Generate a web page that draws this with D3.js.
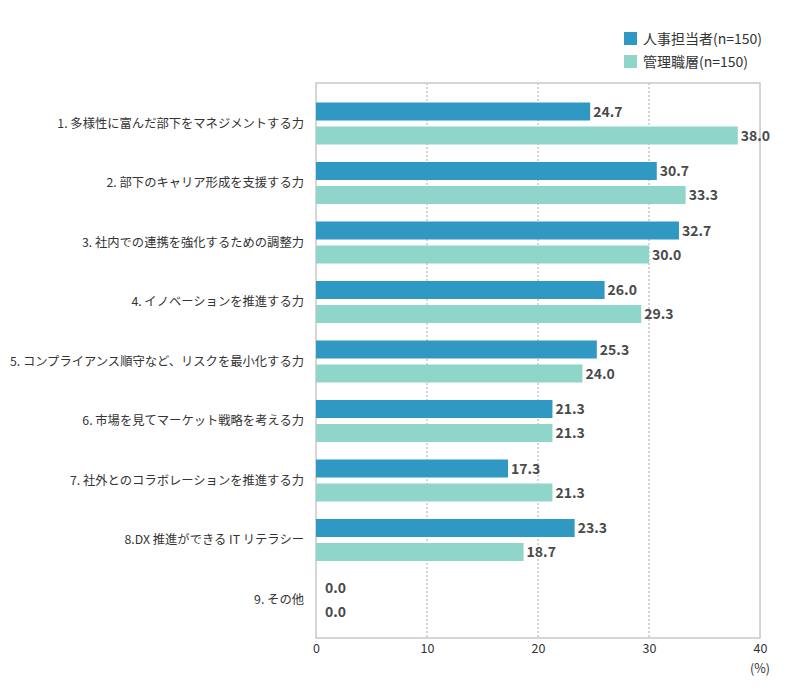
<!DOCTYPE html>
<html>
<head>
<meta charset="utf-8">
<script src="https://cdn.jsdelivr.net/npm/d3@7"></script>
<style>
  body { margin: 0; background: #fff; }
  svg text { font-family: "Noto Sans CJK JP", "Noto Sans", sans-serif; }
</style>
</head>
<body>
<div id="chart"></div>
<script>
// --- data ---
const categories = [
    '1. 多様性に富んだ部下をマネジメントする力',
    '2. 部下のキャリア形成を支援する力',
    '3. 社内での連携を強化するための調整力',
    '4. イノベーションを推進する力',
    '5. コンプライアンス順守など、リスクを最小化する力',
    '6. 市場を見てマーケット戦略を考える力',
    '7. 社外とのコラボレーションを推進する力',
    '8.DX 推進ができる IT リテラシー',
    '9. その他'
];
const seriesNames = ['人事担当者(n=150)', '管理職層(n=150)'];
const hrValues = [24.7, 30.7, 32.7, 26.0, 25.3, 21.3, 17.3, 23.3, 0.0];
const mgrValues = [38.0, 33.3, 30.0, 29.3, 24.0, 21.3, 21.3, 18.7, 0.0];
const xTicks = [0, 10, 20, 30, 40];
const colors = ['#2f99c3', '#8fd5ca'];

const width = 790, height = 688;
const plot = { left: 316, right: 760, top: 83, bottom: 638 };

const svg = d3.select('#chart').append('svg')
    .attr('width', width)
    .attr('height', height);

const x = d3.scaleLinear().domain([0, 40]).range([plot.left, plot.right]);
const y = d3.scaleBand().domain(categories).range([93.75, 629.25]).padding(0);

// grid lines (dotted)
svg.append('g').selectAll('line')
    .data(xTicks.filter(t => t > 0 && t < 40))
    .enter().append('line')
    .attr('x1', d => x(d)).attr('x2', d => x(d))
    .attr('y1', plot.top).attr('y2', plot.bottom)
    .attr('stroke', '#aaa')
    .attr('stroke-width', 1)
    .attr('stroke-dasharray', '2,2');

// plot frame
svg.append('rect')
    .attr('x', plot.left).attr('y', plot.top)
    .attr('width', plot.right - plot.left)
    .attr('height', plot.bottom - plot.top)
    .attr('fill', 'none')
    .attr('stroke', '#c8c8c8')
    .attr('stroke-width', 1.5);

const barH = 18;
const series = [hrValues, mgrValues];
series.forEach((vals, si) => {
    const offset = si === 0 ? -21 : 3;
    const g = svg.append('g');
    g.selectAll('rect')
        .data(vals)
        .enter().append('rect')
        .attr('x', x(0))
        .attr('y', (d, i) => y(categories[i]) + y.bandwidth() / 2 + offset)
        .attr('width', d => x(d) - x(0))
        .attr('height', barH)
        .attr('fill', colors[si]);
    g.selectAll('text')
        .data(vals)
        .enter().append('text')
        .attr('x', d => x(d) + (d === 0 ? 9 : 3))
        .attr('y', (d, i) => y(categories[i]) + y.bandwidth() / 2 + offset + barH / 2)
        .attr('dy', '0.36em')
        .attr('font-size', 14)
        .attr('font-weight', 600)
        .attr('fill', '#4a4a4a')
        .text(d => d.toFixed(1));
});

// left axis labels
svg.append('g').selectAll('text')
    .data(categories)
    .enter().append('text')
    .attr('x', 304)
    .attr('y', d => y(d) + y.bandwidth() / 2)
    .attr('dy', '0.36em')
    .attr('text-anchor', 'end')
    .attr('font-size', 12.3)
    .attr('fill', '#333')
    .text(d => d);

// bottom axis
const xAxis = svg.append('g')
    .attr('transform', `translate(0,${plot.bottom})`)
    .call(d3.axisBottom(x).tickValues(xTicks).tickSize(0).tickPadding(6));
xAxis.select('.domain').remove();
xAxis.selectAll('text')
    .attr('font-size', 12.5)
    .attr('fill', '#333')
    .style('font-family', '"Noto Sans CJK JP", "Noto Sans", sans-serif');

svg.append('text')
    .attr('x', x(40))
    .attr('y', 668)
    .attr('dy', '0.36em')
    .attr('text-anchor', 'middle')
    .attr('font-size', 12.5)
    .attr('fill', '#333')
    .text('(%)');

// legend
const legend = svg.append('g').attr('transform', 'translate(624,32)');
seriesNames.forEach((name, i) => {
    legend.append('rect')
        .attr('x', 0).attr('y', i * 23)
        .attr('width', 13).attr('height', 13)
        .attr('fill', colors[i]);
    legend.append('text')
        .attr('x', 19).attr('y', i * 23 + 6.5)
        .attr('dy', '0.36em')
        .attr('font-size', 14)
        .attr('fill', '#333')
        .text(name);
});
</script>
</body>
</html>
